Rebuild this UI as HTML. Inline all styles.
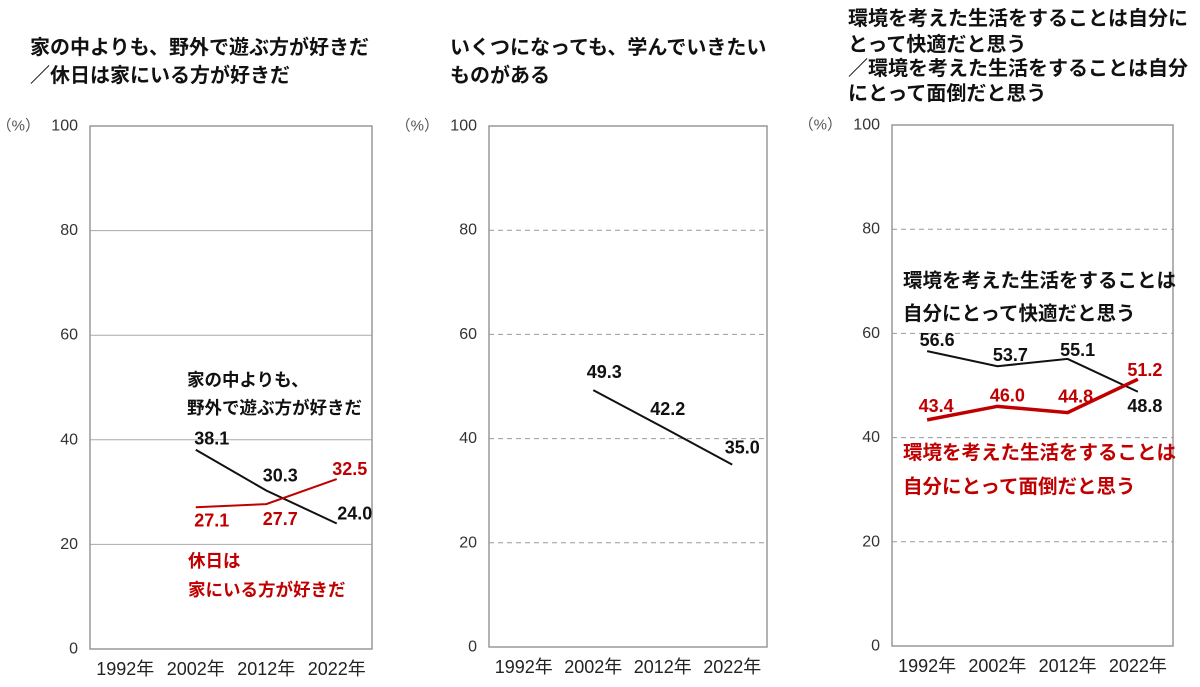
<!DOCTYPE html>
<html><head><meta charset="utf-8">
<style>
html,body{margin:0;padding:0;background:#fff;}
svg{display:block;font-family:"Liberation Sans","Noto Sans CJK JP",sans-serif;}
</style></head>
<body>
<svg id="chart" width="1200" height="687" viewBox="0 0 1200 687">
  <g font-size="20" font-weight="bold" fill="#111">
    <text x="30" y="54">家の中よりも、野外で遊ぶ方が好きだ</text>
    <text x="30" y="82">／休日は家にいる方が好きだ</text>
  </g>
  <g font-size="20" font-weight="bold" fill="#111">
    <text x="450" y="54">いくつになっても、学んでいきたい</text>
    <text x="450" y="82">ものがある</text>
  </g>
  <g font-size="20" font-weight="bold" fill="#111">
    <text x="848" y="25">環境を考えた生活をすることは自分に</text>
    <text x="848" y="51">とって快適だと思う</text>
    <text x="848" y="75">／環境を考えた生活をすることは自分</text>
    <text x="848" y="100">にとって面倒だと思う</text>
  </g>
  <g id="panels"></g>
</svg>
<script>
const categories = ["1992年","2002年","2012年","2022年"];
const yTicks = [0,20,40,60,80,100];
const p1Outdoor = [null,38.1,30.3,24.0];
const p1Home = [null,27.1,27.7,32.5];
const p2Learn = [null,49.3,42.2,35.0];
const p3Comfort = [56.6,53.7,55.1,48.8];
const p3Bother = [43.4,46.0,44.8,51.2];

const NS = "http://www.w3.org/2000/svg";
const root = document.getElementById("panels");
function mk(tag, attrs, parent){
  const e = document.createElementNS(NS, tag);
  for (const k in attrs) e.setAttribute(k, attrs[k]);
  parent.appendChild(e);
  return e;
}
const panels = [
  {x0:90,x1:372,y0:126,y1:649,dashed:false,noteSize:17.5,
   series:[
    {vals:p1Outdoor,color:"#111",w:2,name:"outdoor",off:[[0,0],[16,-11],[14,-15],[18,-10]]},
    {vals:p1Home,color:"#c00000",w:2,name:"home",off:[[0,0],[16,13],[14,15],[13,-10]]}],
   notes:[{t:"家の中よりも、",x:187,y:380,c:"#111"},{t:"野外で遊ぶ方が好きだ",x:187,y:408,c:"#111"},
          {t:"休日は",x:188,y:561,c:"#c00000"},{t:"家にいる方が好きだ",x:188,y:590,c:"#c00000"}]},
  {x0:489,x1:767,y0:126,y1:647,dashed:true,noteSize:17.5,
   series:[{vals:p2Learn,color:"#111",w:2,name:"learn",off:[[0,0],[11,-18],[5,-18],[10,-17]]}],
   notes:[]},
  {x0:892,x1:1173,y0:125,y1:646,dashed:true,noteSize:19.5,
   series:[
    {vals:p3Comfort,color:"#111",w:2,name:"comfort",off:[[10,-11],[13,-11],[10,-9],[7,14]]},
    {vals:p3Bother,color:"#c00000",w:3.5,name:"bother",off:[[9,-14],[10,-11],[8,-16],[7,-9]]}],
   notes:[{t:"環境を考えた生活をすることは",x:903,y:281,c:"#111"},{t:"自分にとって快適だと思う",x:903,y:314,c:"#111"},
          {t:"環境を考えた生活をすることは",x:903,y:453,c:"#c00000"},{t:"自分にとって面倒だと思う",x:903,y:487,c:"#c00000"}]}
];
panels.forEach((p, pi) => {
  const g = mk("g", {}, root);
  
  
  const yS = v => p.y1 - (v/100)*(p.y1-p.y0);
  const step = (p.x1-p.x0)/categories.length;
  const xS = i => p.x0 + step*(i+0.5);
  yTicks.forEach(t => {
    if (t>0 && t<100) {
      const gl = mk("line", {x1:p.x0,x2:p.x1,y1:yS(t),y2:yS(t),stroke:p.dashed?"#999":"#aaa","stroke-width":1,"stroke-dasharray":p.dashed?"5,4":"none"}, g);
      
      
    }
    const tl = mk("text", {x:p.x0-12,y:yS(t),"text-anchor":"end","dominant-baseline":"central","font-size":16,fill:"#333"}, g);
    tl.textContent = t;
    
    
  });
  const pc = mk("text", {x:p.x0-50,y:p.y0,"text-anchor":"end","dominant-baseline":"central","font-size":15,fill:"#555"}, g);
  pc.textContent = "（%）";
  
  
  const box = mk("rect", {x:p.x0,y:p.y0,width:p.x1-p.x0,height:p.y1-p.y0,fill:"none",stroke:"#999","stroke-width":1.5}, g);
  
  
  categories.forEach((c, i) => {
    const xl = mk("text", {x:xS(i),y:p.y1+20,"text-anchor":"middle","dominant-baseline":"central","font-size":18,fill:"#222"}, g);
    xl.textContent = c;
    
    
  });
  p.series.forEach(s => {
    const pts = [];
    s.vals.forEach((v, i) => { if (v !== null) pts.push(xS(i)+","+yS(v)); });
    const line = mk("polyline", {points:pts.join(" "),fill:"none",stroke:s.color,"stroke-width":s.w}, g);
    
    
    s.vals.forEach((v, i) => {
      if (v === null) return;
      const lb = mk("text", {x:xS(i)+s.off[i][0],y:yS(v)+s.off[i][1],"text-anchor":"middle","dominant-baseline":"central","font-size":18,"font-weight":"bold",fill:s.color}, g);
      lb.textContent = v.toFixed(1);
      
      
    });
  });
  p.notes.forEach(n => {
    const t = mk("text", {x:n.x,y:n.y,"dominant-baseline":"central","font-size":p.noteSize,"font-weight":"bold",fill:n.c}, g);
    t.textContent = n.t;
    
    
  });
});
</script>
</body></html>
